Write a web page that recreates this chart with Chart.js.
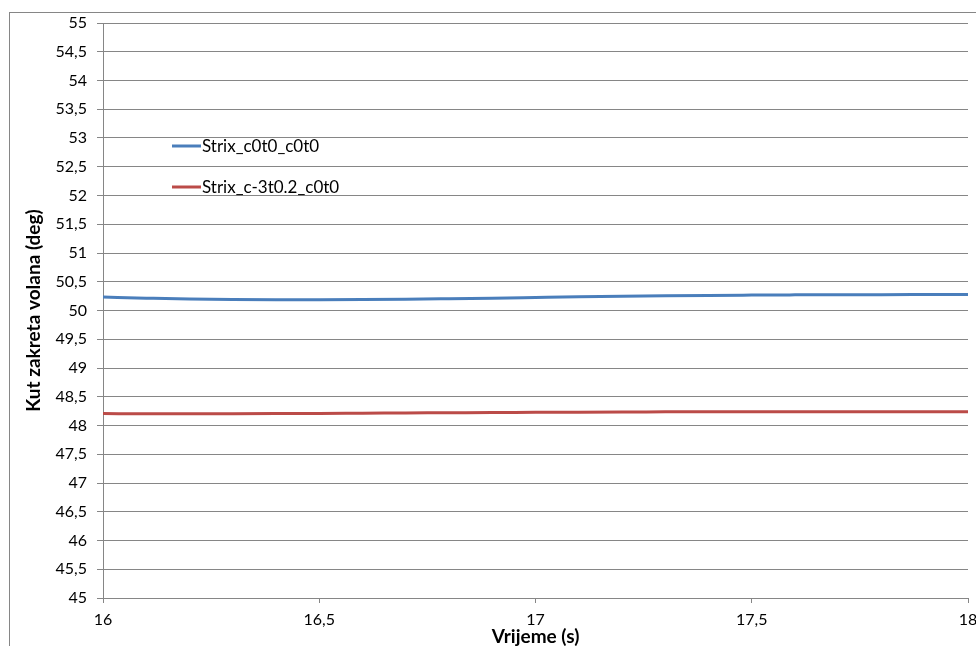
<!DOCTYPE html>
<html>
<head>
<meta charset="utf-8">
<script src="https://cdn.jsdelivr.net/npm/chart.js@4/dist/chart.umd.min.js"></script>
<style>
html,body{margin:0;padding:0;background:#fff;}
#wrap{position:relative;width:976px;height:646px;}
</style>
</head>
<body>
<div id="wrap"><canvas id="c" width="976" height="646"></canvas></div>
<script>
const times = [16.0,16.1,16.2,16.3,16.4,16.5,16.6,16.7,16.8,16.9,17.0,17.1,17.2,17.3,17.4,17.5,17.6,17.7,17.8,17.9,18.0];
const seriesNames = ['Strix_c0t0_c0t0','Strix_c-3t0.2_c0t0'];
const blueValues = [50.235,50.215,50.198,50.19,50.188,50.188,50.19,50.196,50.205,50.215,50.226,50.237,50.247,50.256,50.263,50.268,50.272,50.275,50.276,50.277,50.277];
const redValues  = [48.207,48.205,48.204,48.205,48.207,48.21,48.214,48.218,48.222,48.226,48.229,48.232,48.235,48.237,48.239,48.24,48.241,48.241,48.241,48.241,48.241];
const yTicksMin = 45, yTicksMax = 55, yStep = 0.5;
const xTicksMin = 16, xTicksMax = 18, xStep = 0.5;
const xTitle = 'Vrijeme (s)';
const yTitle = 'Kut zakreta volana (deg)';
const colors = ['#4a7ebb','#bb4b48'];

const FONT = 'Lato';
const fmt = v => String(v).replace('.', ',');

const framePlugin = {
  id: 'frame',
  beforeDraw(chart) {
    const ctx = chart.ctx;
    ctx.save();
    ctx.strokeStyle = '#868686';
    ctx.lineWidth = 1;
    ctx.strokeRect(9.5, 12.5, 1000, 700);
    ctx.restore();
  }
};

const legendPlugin = {
  id: 'insideLegend',
  afterDatasetsDraw(chart) {
    const ctx = chart.ctx;
    ctx.save();
    ctx.font = '17px ' + FONT;
    ctx.textBaseline = 'middle';
    ctx.fillStyle = '#000';
    const rows = [146, 187];
    chart.data.datasets.forEach((ds, i) => {
      const y = rows[i];
      ctx.strokeStyle = ds.borderColor;
      ctx.lineWidth = 3;
      ctx.beginPath();
      ctx.moveTo(172, y);
      ctx.lineTo(201, y);
      ctx.stroke();
      ctx.fillText(ds.label, 202, y + 1);
    });
    ctx.restore();
  }
};

new Chart(document.getElementById('c'), {
  type: 'line',
  data: {
    datasets: [
      { label: seriesNames[0], data: times.map((t,i)=>({x:t,y:blueValues[i]})), borderColor: colors[0], backgroundColor: colors[0], borderWidth: 3, pointRadius: 0, tension: 0.4, cubicInterpolationMode: 'monotone' },
      { label: seriesNames[1], data: times.map((t,i)=>({x:t,y:redValues[i]})), borderColor: colors[1], backgroundColor: colors[1], borderWidth: 3, pointRadius: 0, tension: 0.4, cubicInterpolationMode: 'monotone' }
    ]
  },
  options: {
    responsive: false,
    animation: false,
    layout: { padding: { top: 23, right: 8, left: 0, bottom: 0 } },
    plugins: { legend: { display: false }, tooltip: { enabled: false } },
    scales: {
      x: {
        type: 'linear', min: xTicksMin, max: xTicksMax,
        ticks: { stepSize: xStep, callback: fmt, color: '#000', font: { family: FONT, size: 16 }, padding: 7, maxRotation: 0 },
        grid: { drawOnChartArea: false, drawTicks: true, tickLength: 5, color: '#868686' },
        border: { display: true, color: '#868686' },
        title: { display: true, text: xTitle, color: '#000', font: { family: FONT, size: 19, weight: 'bold' }, padding: { top: 0, bottom: -2 } },
        afterFit(s) { s.height = 48; s.paddingRight = 0; s.paddingLeft = 0; }
      },
      y: {
        type: 'linear', min: yTicksMin, max: yTicksMax,
        ticks: { stepSize: yStep, callback: fmt, color: '#000', font: { family: FONT, size: 16 }, padding: 10 },
        grid: { color: '#868686', tickLength: 6 },
        border: { display: true, color: '#868686' },
        title: { display: true, text: yTitle, color: '#000', font: { family: FONT, size: 19, weight: 'bold' }, padding: { top: 22, bottom: 0 } },
        afterFit(s) { s.width = 103; }
      }
    }
  },
  plugins: [framePlugin, legendPlugin]
});
</script>
</body>
</html>
